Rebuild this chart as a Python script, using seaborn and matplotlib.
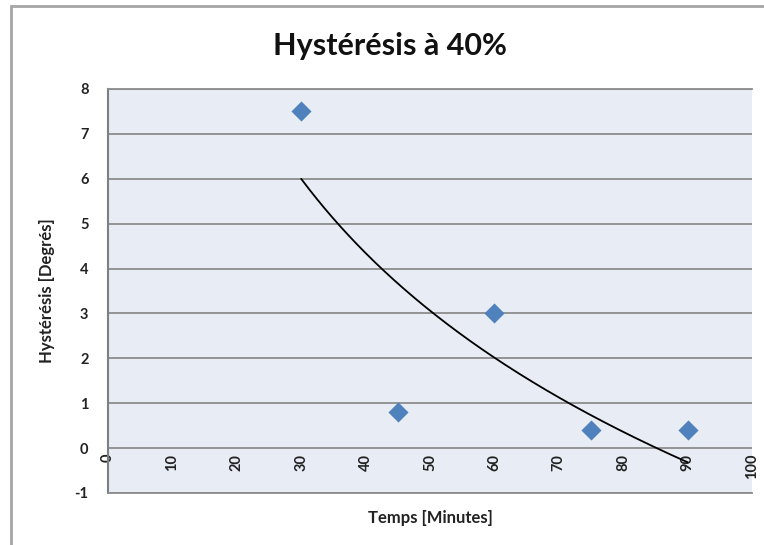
import numpy as np
import pandas as pd
import matplotlib
matplotlib.use("Agg")
import matplotlib.pyplot as plt
from matplotlib.patches import Rectangle
import seaborn as sns

# Measured hysteresis over time
temps_min = [30, 45, 60, 75, 90]
hysteresis_deg = [7.5, 0.8, 3.0, 0.4, 0.4]
x_ticks = [0, 10, 20, 30, 40, 50, 60, 70, 80, 90, 100]
y_ticks = [-1, 0, 1, 2, 3, 4, 5, 6, 7, 8]

title = "Hystérésis à 40%"
x_label = "Temps [Minutes]"
y_label = "Hystérésis [Degrés]"

sns.set_theme(style="white")
plt.rcParams["font.family"] = ["Lato", "DejaVu Sans"]

df = pd.DataFrame({"temps": temps_min, "hyst": hysteresis_deg})

# Logarithmic trend line y = a*ln(x) + b fitted to the measurements
a, b = np.polyfit(np.log(df["temps"]), df["hyst"], 1)
xs = np.linspace(min(temps_min), max(temps_min), 200)
trend = pd.DataFrame({"temps": xs, "hyst": a * np.log(xs) + b})

fig = plt.figure(figsize=(7.64, 5.45), dpi=100)
fig.patch.set_facecolor("white")

# chart frame
fig.add_artist(Rectangle((10.5 / 764, -0.05), 1.2, 1 - 5.5 / 545 + 0.05,
                         transform=fig.transFigure, fill=False,
                         edgecolor="#a6a6a6", linewidth=2.0, zorder=0))

ax = fig.add_axes([108 / 764, 1 - 493 / 545, (752 - 108) / 764, (493 - 89) / 545])
ax.set_facecolor("#e8edf5")

sns.lineplot(data=trend, x="temps", y="hyst", ax=ax, color="black",
             linewidth=1.3, zorder=3)
sns.scatterplot(data=df, x="temps", y="hyst", ax=ax, marker="D", s=105,
                color="#4f81bd", edgecolor="#4f81bd", linewidth=0, zorder=4)

ax.set_xlim(0, 100)
ax.set_ylim(-1, 8)
ax.set_yticks(y_ticks)
ax.set_yticklabels([str(v) for v in y_ticks], fontsize=10.5, fontweight="bold",
                   color="#222222")
ax.tick_params(axis="y", length=0, pad=14)
ax.set_xticks(x_ticks)
ax.tick_params(axis="x", length=0, labelbottom=False)
ax.yaxis.grid(True, color="#8c8c8c", linewidth=1.3)
ax.xaxis.grid(False)
ax.set_axisbelow(True)

for side in ["top", "bottom"]:
    ax.spines[side].set_color("#8c8c8c")
    ax.spines[side].set_linewidth(1.3)
ax.spines["right"].set_visible(False)
ax.spines["left"].set_color("#7f7f7f")
ax.spines["left"].set_linewidth(1.5)

# category labels sit under the zero line
sec = ax.secondary_xaxis(1 / 9)
sec.set_xticks(x_ticks)
sec.set_xticklabels([str(v) for v in x_ticks], rotation=90, fontsize=10.5,
                    fontweight="bold", color="#222222")
sec.tick_params(axis="x", length=0, pad=4)
sec.spines["bottom"].set_visible(False)

ax.set_xlabel("")
ax.set_ylabel("")
fig.text(430 / 764, 1 - 518 / 545, x_label, ha="center", va="center",
         fontsize=12, fontweight="bold", color="#222222")
fig.text(47 / 764, 1 - 291 / 545, y_label, ha="center", va="center",
         rotation=90, fontsize=12, fontweight="bold", color="#222222")
fig.text(390 / 764, 1 - 46 / 545, title, ha="center", va="center",
         fontsize=22, fontweight="bold", color="#111111")

fig.savefig("out.png", dpi=100, facecolor="white")
